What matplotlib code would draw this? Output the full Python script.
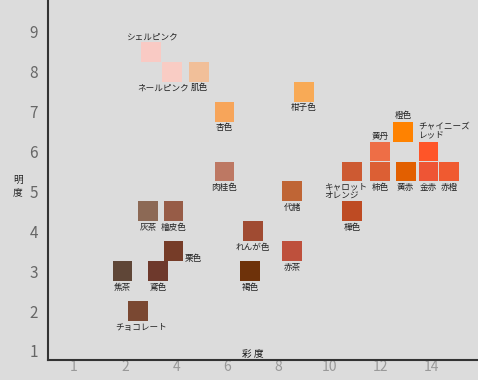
import matplotlib
matplotlib.use("Agg")
import matplotlib.pyplot as plt

plt.rcParams['font.family'] = ['Noto Sans CJK JP', 'DejaVu Sans']

# 色名・彩度・明度・色
names = ["シェルピンク", "ネールピンク", "肌色", "杏色", "柑子色", "肉桂色", "代赭",
         "キャロット\nオレンジ", "柿色", "黄丹", "橙色", "黄赤", "チャイニーズ\nレッド",
         "金赤", "赤橙", "樺色", "灰茶", "檜皮色", "栗色", "焦茶", "鳶色",
         "チョコレート", "れんが色", "褐色", "赤茶"]
chroma = [3.0, 3.85, 4.9, 5.9, 9.0, 5.9, 8.55,
          10.9, 12.0, 12.0, 12.9, 13.0, 13.9,
          13.9, 14.7, 10.9, 2.9, 3.9, 3.9, 1.9, 3.3,
          2.5, 7.0, 6.9, 8.55]
value = [8.5, 8.0, 8.0, 7.0, 7.5, 5.5, 5.0,
         5.5, 5.5, 6.0, 6.5, 5.5, 6.0,
         5.5, 5.5, 4.5, 4.5, 4.5, 3.5, 3.0, 3.0,
         2.0, 4.0, 3.0, 3.5]
colors = ["#F9CAC4", "#F9CCC4", "#F1BF99", "#F7A55A", "#F8AA56", "#BD7863", "#BF6535",
          "#CD5A32", "#DC5F34", "#EE6E46", "#FF8200", "#E25F00", "#FF5528",
          "#EE5535", "#F05A30", "#BE4B23", "#8C6955", "#975C47", "#763C28", "#5F4637", "#6E392C",
          "#7A4832", "#A04B32", "#6E320A", "#BE503C"]

x_ticks = [0, 2, 4, 6, 8, 10, 12, 14]
x_ticklabels = ["1", "2", "4", "6", "8", "10", "12", "14"]
y_ticks = [1, 2, 3, 4, 5, 6, 7, 8, 9]

# ラベルの位置 (px, 正方形の中心から)
offsets = {"シェルピンク": (1, 15), "ネールピンク": (-9, -16), "栗色": (20, -7),
           "チョコレート": (3, -16), "黄丹": (0, 15), "橙色": (0, 16)}

fig = plt.figure(figsize=(4.78, 3.80), dpi=100)
fig.patch.set_facecolor("#DCDCDC")
ax = fig.add_axes([0.1, 0.053, 0.9, 0.947])
ax.set_facecolor("#DCDCDC")

ax.scatter(chroma, value, marker="s", s=205, c=colors, linewidths=0)

for n, x, y in zip(names, chroma, value):
    if n.startswith("キャロット"):
        ax.annotate(n, (x, y), xytext=(-28 * 0.72, -11 * 0.72), textcoords="offset points",
                    ha="left", va="top", fontsize=6.2, color="#222", linespacing=0.95)
    elif n.startswith("チャイニーズ"):
        ax.annotate(n, (x, y), xytext=(-10 * 0.72, 12 * 0.72), textcoords="offset points",
                    ha="left", va="bottom", fontsize=6.2, color="#222", linespacing=0.95)
    else:
        dx, dy = offsets.get(n, (0, -16))
        ax.annotate(n, (x, y), xytext=(dx * 0.72, dy * 0.72), textcoords="offset points",
                    ha="center", va="center", fontsize=6.2, color="#222")

ax.set_xlim(-1.03, 15.84)
ax.set_ylim(0.775, 9.8)
ax.set_xticks(x_ticks)
ax.set_xticklabels(x_ticklabels, color="#999999", fontsize=10)
ax.set_yticks(y_ticks)
ax.set_yticklabels([str(v) for v in y_ticks], color="#666666", fontsize=11)
ax.tick_params(axis="x", length=0, pad=0)
ax.tick_params(axis="y", length=0, pad=7)
for s in ["top", "right"]:
    ax.spines[s].set_visible(False)
for s in ["left", "bottom"]:
    ax.spines[s].set_linewidth(1.5)
    ax.spines[s].set_color("#333333")

ax.text(7.0, 0.8, "彩 度", ha="center", va="bottom", fontsize=7, color="#111")
fig.text(18 / 478, 1 - 186 / 380, "明\n度", ha="center", va="center", fontsize=7, color="#222")

fig.savefig("out.png", dpi=100, facecolor=fig.get_facecolor())
